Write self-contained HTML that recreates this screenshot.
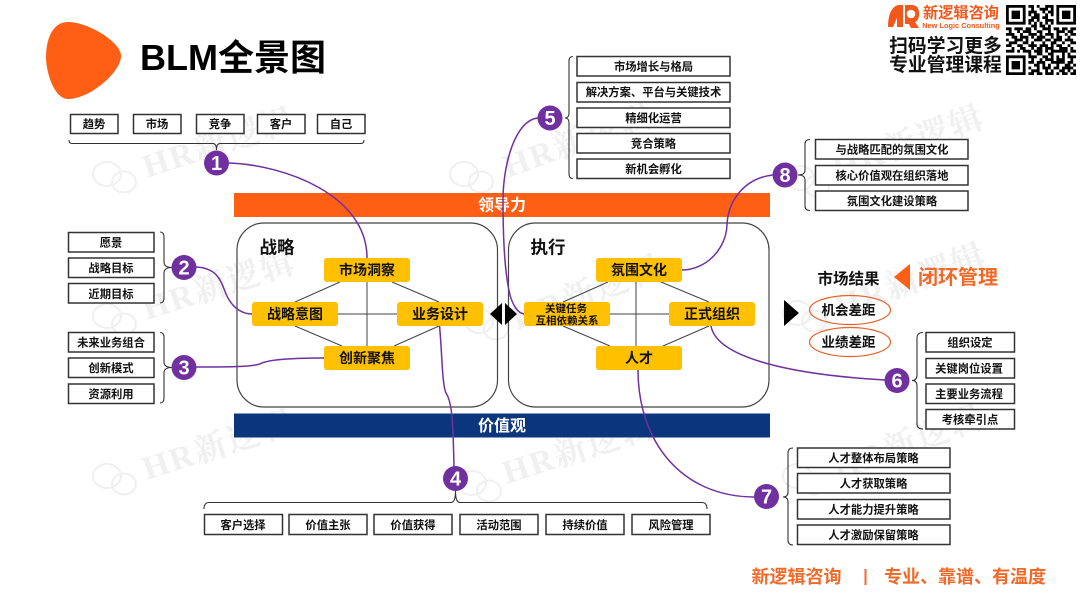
<!DOCTYPE html>
<html lang="zh"><head><meta charset="utf-8"><title>BLM全景图</title>
<style>
html,body{margin:0;padding:0;background:#fff;width:1080px;height:608px;overflow:hidden}
svg{display:block}
text{font-family:"Liberation Sans","Noto Sans CJK SC",sans-serif;font-weight:700;text-anchor:middle;fill:#111}
.b{fill:#fff;stroke:#333;stroke-width:1.5}
.t{font-size:11.3px}
.n{fill:#ffc000}
.nt{font-size:14px}
.l{stroke:#444;stroke-width:1;fill:none}
.br{stroke:#333;stroke-width:1.1;fill:none}
.c{stroke:#7030a0;stroke-width:1.5;fill:none}
.d{fill:#7030a0}
.dt{fill:#fff;font-size:20px}
.w{font-family:"Liberation Serif","Noto Serif CJK SC",serif;font-size:33px;fill:#f0f0f0;text-anchor:start;letter-spacing:2px}
.wi{fill:none;stroke:#f0f0f0;stroke-width:2}
.o{fill:#f26a2a;font-size:18px}
</style></head><body>
<svg width="1080" height="608" viewBox="0 0 1080 608" xmlns="http://www.w3.org/2000/svg">
<defs><g id="wc" class="wi"><ellipse cx="-8" cy="-4" rx="14" ry="12"/><ellipse cx="9" cy="4" rx="12" ry="10.5"/></g></defs>
<!-- watermarks -->
<use href="#wc" x="115" y="178"/><text class="w" transform="translate(147 178) rotate(-18)">HR新逻辑</text>
<use href="#wc" x="472" y="178"/><text class="w" transform="translate(508 178) rotate(-20)">HR新逻辑</text>
<use href="#wc" x="808" y="182"/><text class="w" transform="translate(838 180) rotate(-20)">HR新逻辑</text>
<use href="#wc" x="115" y="320"/><text class="w" transform="translate(147 320) rotate(-18)">HR新逻辑</text>
<use href="#wc" x="487" y="325"/><text class="w" transform="translate(517 330) rotate(-20)">HR新逻辑</text>
<use href="#wc" x="805" y="317"/><text class="w" transform="translate(840 318) rotate(-20)">HR新逻辑</text>
<use href="#wc" x="115" y="480"/><text class="w" transform="translate(147 480) rotate(-18)">HR新逻辑</text>
<use href="#wc" x="480" y="487"/><text class="w" transform="translate(507 484) rotate(-18)">HR新逻辑</text>
<use href="#wc" x="805" y="480"/><text class="w" transform="translate(838 480) rotate(-20)">HR新逻辑</text>

<!-- header -->
<path d="M68,22 C88,22 121,42 121,56 C121,72 90,99 68,99 C54,99 46,72 46,57 C46,40 52,22 68,22 Z" fill="#ff5f15"/>
<text x="140" y="70" style="font-size:36px;text-anchor:start;fill:#000">BLM全景图</text>

<!-- company logo -->
<path d="M888,27 C888,14 892,6 899,5 L903,5 L903,27 L897,27 L897,18 L893,27 Z" fill="#f2581c"/>
<path d="M905,5 H912 C918,5 920,11 919,16 C918,20 917,21 915,22 L919,28 H911 L909,24 H905 Z" fill="#f2581c"/>
<circle cx="911" cy="14" r="4.3" fill="#fff"/>
<text x="961" y="18" style="font-size:15.2px;fill:#f2581c">新逻辑咨询</text>
<text x="961" y="28" style="font-size:7.4px;fill:#f2581c">New Logic Consulting</text>
<text x="945.5" y="52" style="font-size:18.8px;fill:#111">扫码学习更多</text>
<text x="945.5" y="71" style="font-size:18.8px;fill:#111">专业管理课程</text>

<!-- QR -->
<g transform="translate(1006 5) scale(2.8)">
<path d="M0 0h7v7h-7zM1 1v5h5v-5zM18 0h7v7h-7zM19 1v5h5v-5zM0 18h7v7h-7zM1 19v5h5v-5z" fill="#000" fill-rule="evenodd"/>
<path d="M2 2h3v3h-3zM20 2h3v3h-3zM2 20h3v3h-3z" fill="#000"/>
<path stroke="#000" stroke-width="1" fill="none" d="M8 .5h2M11 .5h1M14 .5h3M9 1.5h1M12 1.5h3M16 1.5h1M8 2.5h3M13 2.5h1M15 2.5h2M8 3.5h1M10 3.5h2M14 3.5h1M16 3.5h1M9 4.5h3M13 4.5h2M8 5.5h2M11 5.5h1M14 5.5h3M8 6.5h1M10 6.5h1M12 6.5h1M14 6.5h1M16 6.5h1M9 7.5h2M12 7.5h2M15 7.5h1M0 8.5h2M3 8.5h3M7 8.5h2M10 8.5h1M13 8.5h3M17 8.5h2M20 8.5h2M23 8.5h2M1 9.5h1M4 9.5h1M6 9.5h3M11 9.5h2M15 9.5h1M18 9.5h3M22 9.5h2M0 10.5h3M5 10.5h1M8 10.5h3M12 10.5h1M14 10.5h3M18 10.5h1M21 10.5h1M23 10.5h2M2 11.5h2M5 11.5h3M9 11.5h1M11 11.5h3M16 11.5h1M18 11.5h2M22 11.5h1M0 12.5h1M3 12.5h3M7 12.5h1M10 12.5h3M14 12.5h2M17 12.5h3M21 12.5h3M1 13.5h3M6 13.5h2M9 13.5h1M13 13.5h1M16 13.5h2M20 13.5h1M23 13.5h2M0 14.5h2M4 14.5h2M8 14.5h3M12 14.5h3M16 14.5h1M18 14.5h2M22 14.5h1M2 15.5h1M5 15.5h2M9 15.5h1M11 15.5h2M14 15.5h3M19 15.5h3M23 15.5h1M0 16.5h3M4 16.5h1M6 16.5h3M10 16.5h3M14 16.5h1M16 16.5h6M23 16.5h2M8 17.5h1M11 17.5h2M15 17.5h1M16 17.5h1M20 17.5h1M22 17.5h1M8 18.5h3M13 18.5h2M16 18.5h1M18 18.5h1M20 18.5h1M22 18.5h3M9 19.5h1M12 19.5h1M14 19.5h3M18 19.5h3M23 19.5h1M8 20.5h2M11 20.5h3M16 20.5h5M22 20.5h2M10 21.5h2M13 21.5h1M15 21.5h1M18 21.5h1M21 21.5h2M24 21.5h1M8 22.5h1M11 22.5h1M13 22.5h3M17 22.5h2M20 22.5h4M9 23.5h3M14 23.5h1M16 23.5h1M19 23.5h2M22 23.5h1M24 23.5h1M8 24.5h2M11 24.5h2M14 24.5h3M18 24.5h1M20 24.5h2M23 24.5h2"/>
</g>

<!-- bars -->
<rect x="234" y="193" width="536" height="24" fill="#ff5f15"/>
<text x="502" y="210.5" style="font-size:16px;fill:#fff">领导力</text>
<rect x="234" y="413.5" width="536" height="24" fill="#0b367c"/>
<text x="502" y="431" style="font-size:16px;fill:#fff">价值观</text>

<!-- panels -->
<rect x="237" y="223" width="260.5" height="184" rx="27" fill="none" stroke="#444" stroke-width="1.2"/>
<rect x="508.5" y="223" width="260.5" height="184" rx="27" fill="none" stroke="#444" stroke-width="1.2"/>
<text x="277" y="253.5" style="font-size:17.5px">战略</text>
<text x="548" y="253.5" style="font-size:17.5px">执行</text>

<!-- strategy lines -->
<path class="l" d="M367,282V346M338,314H397M340,282L295,302M392,282L439,302M295,326L342,346M439,326L394,346"/>
<!-- execution lines -->
<path class="l" d="M636,282V346M610,314H669M608,282L563,302M661,282L709,302M563,326L610,346M709,326L663,346"/>

<!-- curves -->
<path class="c" d="M229,163 C285,165 367,195 367,258"/>
<path class="c" d="M196,267 C222,268 222,288 228,298 C234,309 243,314 252,314"/>
<path class="c" d="M196,367 C225,367 250,367 260,364 C268,359 300,358 324,358"/>
<path class="c" d="M439.5,326 C442,350 442,385 446,393 C452,402 453,420 454,467"/>
<path class="c" d="M538,118 C515,120 503,165 503,200 C503,245 505,275 510,295 C513,306 518,313 524,314"/>
<path class="c" d="M711,326 C716,355 780,374 885,380"/>
<path class="c" d="M638,370 C638,440 680,497 755,497"/>
<path class="c" d="M773,175 C745,178 728,200 727,225 C726,250 705,270 682,270"/>

<!-- yellow nodes -->
<g class="n">
<rect x="324" y="258" width="86" height="24" rx="3"/><rect x="252" y="302" width="86" height="24" rx="3"/>
<rect x="397" y="302" width="86" height="24" rx="3"/><rect x="324" y="346" width="86" height="24" rx="3"/>
<rect x="596" y="258" width="86" height="24" rx="3"/><rect x="524" y="302" width="86" height="24" rx="3"/>
<rect x="669" y="302" width="86" height="24" rx="3"/><rect x="596" y="346" width="86" height="24" rx="3"/>
</g>
<text class="nt" x="367" y="275">市场洞察</text>
<text class="nt" x="295" y="319">战略意图</text>
<text class="nt" x="440" y="319">业务设计</text>
<text class="nt" x="367" y="363">创新聚焦</text>
<text class="nt" x="639" y="275">氛围文化</text>
<text class="nt" x="712" y="319">正式组织</text>
<text class="nt" x="639" y="363">人才</text>
<text x="566" y="312" style="font-size:10.5px">关键任务</text>
<text x="567" y="324" style="font-size:10.5px">互相依赖关系</text>

<!-- triangles -->
<path d="M490,314L502,303V325Z M505,303L517,314L505,325Z M784,300L799,313L784,326Z" fill="#000"/>
<path d="M910,264V290L894,277Z" fill="#ff5f15"/>

<!-- market results -->
<text x="848.5" y="284" style="font-size:15.5px">市场结果</text>
<text x="958" y="284" style="font-size:20px;fill:#f26a2a">闭环管理</text>
<ellipse cx="850" cy="310" rx="40.5" ry="14.5" fill="none" stroke="#e8622c" stroke-width="1.2"/>
<ellipse cx="850" cy="342" rx="40.5" ry="14.5" fill="none" stroke="#e8622c" stroke-width="1.2"/>
<text x="848.5" y="315" style="font-size:13.5px">机会差距</text>
<text x="848.5" y="347" style="font-size:13.5px">业绩差距</text>

<!-- group 1 -->
<rect class="b" x="70.5" y="114.5" width="47.5" height="19"/><rect class="b" x="133.5" y="114.5" width="47.5" height="19"/><rect class="b" x="196.5" y="114.5" width="47.5" height="19"/><rect class="b" x="257.5" y="114.5" width="47.5" height="19"/><rect class="b" x="317.5" y="114.5" width="47.5" height="19"/>
<text class="t" x="94" y="128">趋势</text><text class="t" x="157" y="128">市场</text><text class="t" x="220" y="128">竞争</text><text class="t" x="281" y="128">客户</text><text class="t" x="341" y="128">自己</text>
<path class="br" d="M69,140 Q69,143.5 72,143.5 H213 Q216.5,143.5 216.5,150 Q216.5,143.5 220,143.5 H361 Q364,143.5 364,140"/>

<!-- group 2 -->
<rect class="b" x="68.5" y="232.5" width="85.5" height="19.5"/><rect class="b" x="68.5" y="258" width="85.5" height="19.5"/><rect class="b" x="68.5" y="283.5" width="85.5" height="19.5"/>
<text class="t" x="111" y="246.5">愿景</text><text class="t" x="111" y="272">战略目标</text><text class="t" x="111" y="298">近期目标</text>
<path class="br" d="M160,232 Q164,232 164,237 V262 Q164,267.5 172,267.5 Q164,267.5 164,273 V298 Q164,303 160,303"/>

<!-- group 3 -->
<rect class="b" x="68.5" y="332.5" width="85.5" height="19.5"/><rect class="b" x="68.5" y="358" width="85.5" height="19.5"/><rect class="b" x="68.5" y="384" width="85.5" height="19.5"/>
<text class="t" x="111" y="346.5">未来业务组合</text><text class="t" x="111" y="372">创新模式</text><text class="t" x="111" y="398">资源利用</text>
<path class="br" d="M160,332.5 Q164,332.5 164,337 V362 Q164,367.5 172,367.5 Q164,367.5 164,373 V398 Q164,403 160,403"/>

<!-- group 4 -->
<path class="br" d="M204,509 Q204,502.5 209,502.5 H451 Q455.5,502.5 455.5,491 Q455.5,502.5 460,502.5 H702 Q707,502.5 707,509"/>
<rect class="b" x="204.5" y="514.5" width="78" height="20"/><rect class="b" x="289" y="514.5" width="78" height="20"/><rect class="b" x="374" y="514.5" width="78" height="20"/><rect class="b" x="460" y="514.5" width="78" height="20"/><rect class="b" x="546" y="514.5" width="78" height="20"/><rect class="b" x="632" y="514.5" width="78" height="20"/>
<text class="t" x="243" y="529">客户选择</text><text class="t" x="328" y="529">价值主张</text><text class="t" x="413" y="529">价值获得</text><text class="t" x="499" y="529">活动范围</text><text class="t" x="585" y="529">持续价值</text><text class="t" x="671" y="529">风险管理</text>

<!-- group 5 -->
<path class="br" d="M573,56.5 Q569,56.5 569,61 V113 Q569,118 565,118 Q569,118 569,123 V174 Q569,178.5 573,178.5"/>
<rect class="b" x="577" y="56.5" width="153" height="19.5"/><rect class="b" x="577" y="82.5" width="153" height="19.5"/><rect class="b" x="577" y="108" width="153" height="19.5"/><rect class="b" x="577" y="133.5" width="153" height="19.5"/><rect class="b" x="577" y="159" width="153" height="19.5"/>
<text class="t" x="653.5" y="70.5">市场增长与格局</text><text class="t" x="653.5" y="96">解决方案、平台与关键技术</text><text class="t" x="653.5" y="122">精细化运营</text><text class="t" x="653.5" y="147.5">竞合策略</text><text class="t" x="653.5" y="173">新机会孵化</text>

<!-- group 6 -->
<path class="br" d="M923,332.5 Q917,332.5 917,338 V375 Q917,380.5 912,380.5 Q917,380.5 917,386 V424 Q917,429 923,429"/>
<rect class="b" x="926" y="332.5" width="88.5" height="19.5"/><rect class="b" x="926" y="358.5" width="88.5" height="19.5"/><rect class="b" x="926" y="384" width="88.5" height="19.5"/><rect class="b" x="926" y="409.5" width="88.5" height="19.5"/>
<text class="t" x="970" y="346.5">组织设定</text><text class="t" x="969" y="372.5">关键岗位设置</text><text class="t" x="969" y="398">主要业务流程</text><text class="t" x="970" y="423.5">考核牵引点</text>

<!-- group 7 -->
<path class="br" d="M793,448 Q788,448 788,453 V492 Q788,497 783,497 Q788,497 788,502 V540 Q788,545 793,545"/>
<rect class="b" x="797.5" y="448" width="152.5" height="19.5"/><rect class="b" x="797.5" y="473.5" width="152.5" height="19.5"/><rect class="b" x="797.5" y="499.5" width="152.5" height="19.5"/><rect class="b" x="797.5" y="525" width="152.5" height="19.5"/>
<text class="t" x="873.5" y="462">人才整体布局策略</text><text class="t" x="873.5" y="487.5">人才获取策略</text><text class="t" x="873.5" y="513.5">人才能力提升策略</text><text class="t" x="873.5" y="539">人才激励保留策略</text>

<!-- group 8 -->
<path class="br" d="M810,139.5 Q805,139.5 805,144 V170 Q805,175 798,175 Q805,175 805,180 V206 Q805,210.5 810,210.5"/>
<rect class="b" x="815.5" y="139.5" width="152.5" height="19.5"/><rect class="b" x="815.5" y="165.5" width="152.5" height="19.5"/><rect class="b" x="815.5" y="191" width="152.5" height="19.5"/>
<text class="t" x="892" y="153.5">与战略匹配的氛围文化</text><text class="t" x="892" y="179.5">核心价值观在组织落地</text><text class="t" x="892" y="205">氛围文化建设策略</text>

<!-- number circles -->
<g class="d">
<circle cx="216.5" cy="163" r="12.5"/><circle cx="184" cy="267.5" r="12.5"/><circle cx="184" cy="367.5" r="12.5"/><circle cx="455.5" cy="478.5" r="12.5"/>
<circle cx="550" cy="118" r="12.5"/><circle cx="897" cy="380.5" r="12.5"/><circle cx="766.5" cy="496.5" r="12.5"/><circle cx="785" cy="175" r="12.5"/>
</g>
<text class="dt" x="216.5" y="170">1</text><text class="dt" x="184" y="274.5">2</text><text class="dt" x="184" y="374.5">3</text><text class="dt" x="455.5" y="485.5">4</text>
<text class="dt" x="550" y="125">5</text><text class="dt" x="897" y="387.5">6</text><text class="dt" x="766.5" y="503.5">7</text><text class="dt" x="785" y="182">8</text>

<!-- footer -->
<text class="o" x="796.5" y="583">新逻辑咨询</text>
<rect x="864.5" y="569" width="2" height="16" fill="#f26a2a"/>
<text class="o" x="965" y="583">专业、靠谱、有温度</text>
</svg>
</body></html>
